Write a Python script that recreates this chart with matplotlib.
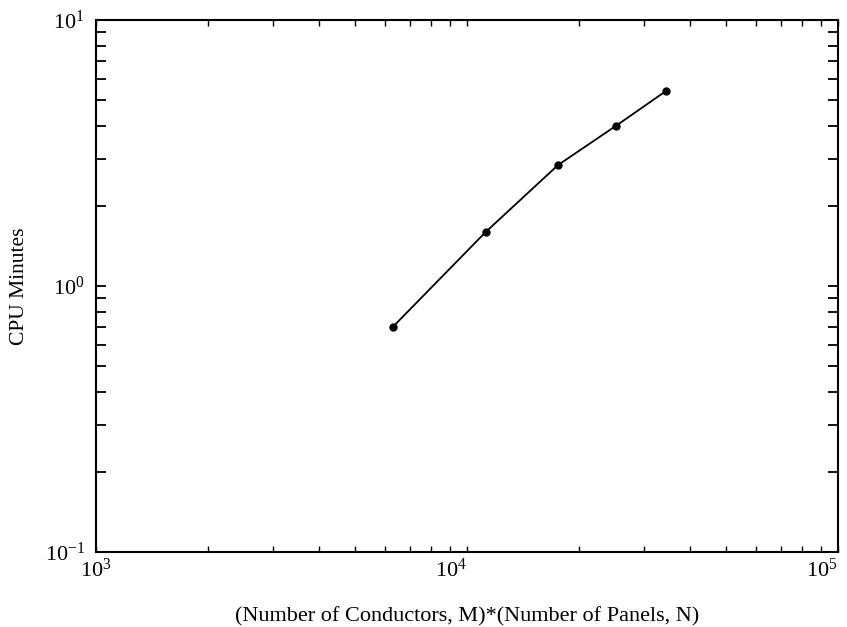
import numpy as np
import matplotlib
matplotlib.use('Agg')
import matplotlib.pyplot as plt
from matplotlib.ticker import LogLocator, NullFormatter

plt.rcParams['font.family'] = ['Liberation Serif', 'DejaVu Serif']
plt.rcParams['mathtext.fontset'] = 'custom'
plt.rcParams['mathtext.rm'] = 'Liberation Serif'
plt.rcParams['mathtext.it'] = 'Liberation Serif:italic'

# values
mn = [6300, 11250, 17600, 25200, 34400]
cpu = [0.70, 1.60, 2.85, 4.00, 5.41]

fig = plt.figure(figsize=(8.47, 6.27), dpi=100)
ax = fig.add_axes([0.1133, 0.1196, 0.8761, 0.8485])

ax.plot(mn, cpu, c='black', linewidth=1.3, marker='o', markersize=5)

ax.set_xscale('log')
ax.set_yscale('log')
ax.set_xlim(1e3, 1e5)
ax.set_ylim(1e-1, 1e1)

ax.xaxis.set_minor_locator(LogLocator(base=10, subs=np.arange(2, 10)))
ax.yaxis.set_minor_locator(LogLocator(base=10, subs=np.arange(2, 10)))
ax.xaxis.set_minor_formatter(NullFormatter())
ax.yaxis.set_minor_formatter(NullFormatter())

ax.tick_params(which='both', direction='in', top=True, right=True, labelsize=16)
ax.tick_params(axis='x', which='both', length=4, width=1, pad=5)
ax.tick_params(axis='y', which='both', length=7, width=1.3, pad=8)
for s in ax.spines.values():
    s.set_linewidth(1.5)

fig.canvas.draw()
for tick in ax.xaxis.get_major_ticks():
    if np.isclose(tick.get_loc(), 1e3):
        tick.label1.set_horizontalalignment('center')
    else:
        tick.label1.set_horizontalalignment('right')

ax.set_xlabel('(Number of Conductors, M)*(Number of Panels, N)', fontsize=16, labelpad=18)
ax.set_ylabel('CPU Minutes', fontsize=15.5)
ax.yaxis.set_label_coords(-0.09, 0.5)

plt.savefig('out.png', dpi=100)
